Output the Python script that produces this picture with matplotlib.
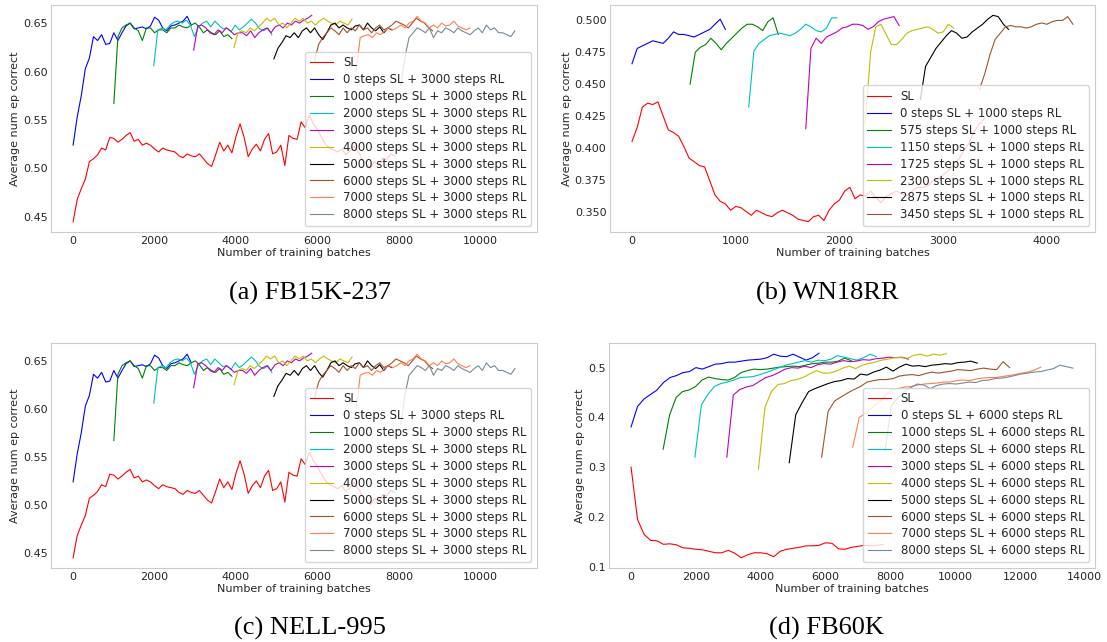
import matplotlib.pyplot as plt
import numpy as np
from matplotlib.ticker import MultipleLocator

plt.rcParams['font.family'] = 'DejaVu Sans'
plt.rcParams['font.size'] = 8
plt.rcParams['axes.edgecolor'] = '0.8'
plt.rcParams['text.color'] = '0.15'
plt.rcParams['axes.labelcolor'] = '0.15'
plt.rcParams['xtick.color'] = '0.15'
plt.rcParams['ytick.color'] = '0.15'
plt.rcParams['xtick.major.size'] = 0
plt.rcParams['ytick.major.size'] = 0
plt.rcParams['xtick.major.pad'] = 3
plt.rcParams['ytick.major.pad'] = 2.5

# ---- FB15K-237 (also shown as NELL-995), sampled every 100 batches ----
fb_step = 100
fb_sl = [0.445, 0.468, 0.479, 0.489, 0.507, 0.510, 0.514, 0.521, 0.519, 0.532,
         0.531, 0.527, 0.530, 0.534, 0.537, 0.528, 0.530, 0.524, 0.526, 0.524,
         0.520, 0.517, 0.521, 0.519, 0.518, 0.517, 0.513, 0.511, 0.515, 0.513,
         0.512, 0.515, 0.510, 0.505, 0.502, 0.514, 0.527, 0.518, 0.524, 0.516,
         0.533, 0.546, 0.532, 0.512, 0.520, 0.525, 0.518, 0.530, 0.536, 0.515,
         0.517, 0.524, 0.503, 0.534, 0.531, 0.530, 0.548, 0.542, 0.555, 0.546,
         0.540, 0.532, 0.525, 0.521, 0.519, 0.517, 0.520, 0.514, 0.518, 0.523,
         0.517, 0.510, 0.505, 0.500, 0.507, 0.503, 0.511, 0.509, 0.515, 0.513]
fb_starts = [0, 1000, 1980, 2960, 3950, 4930, 5930, 6950, 8050]
fb_rl = [
    [0.524, 0.553, 0.575, 0.603, 0.614, 0.636, 0.632, 0.638, 0.628, 0.629,
     0.640, 0.632, 0.640, 0.647, 0.650, 0.644, 0.645, 0.646, 0.644, 0.647,
     0.656, 0.653, 0.645, 0.642, 0.647, 0.648, 0.650, 0.652, 0.657, 0.648],
    [0.567, 0.636, 0.645, 0.648, 0.650, 0.645, 0.642, 0.632, 0.645, 0.645,
     0.640, 0.643, 0.643, 0.640, 0.645, 0.645, 0.648, 0.646, 0.645, 0.648,
     0.650, 0.646, 0.640, 0.643, 0.640, 0.638, 0.642, 0.636, 0.638, 0.634],
    [0.606, 0.643, 0.645, 0.643, 0.648, 0.651, 0.652, 0.650, 0.653, 0.648,
     0.636, 0.646, 0.650, 0.652, 0.646, 0.652, 0.648, 0.644, 0.645, 0.641,
     0.648, 0.643, 0.646, 0.650, 0.654, 0.650, 0.644, 0.642, 0.645, 0.638],
    [0.622, 0.647, 0.648, 0.645, 0.640, 0.638, 0.643, 0.640, 0.645, 0.642,
     0.638, 0.640, 0.640, 0.637, 0.642, 0.635, 0.640, 0.643, 0.645, 0.640,
     0.646, 0.648, 0.645, 0.650, 0.648, 0.652, 0.650, 0.653, 0.655, 0.658],
    [0.625, 0.640, 0.642, 0.640, 0.645, 0.642, 0.646, 0.650, 0.655, 0.652,
     0.655, 0.648, 0.650, 0.645, 0.650, 0.655, 0.652, 0.655, 0.650, 0.652,
     0.648, 0.652, 0.655, 0.652, 0.650, 0.648, 0.652, 0.650, 0.648, 0.654],
    [0.613, 0.624, 0.630, 0.637, 0.635, 0.640, 0.635, 0.642, 0.645, 0.640,
     0.645, 0.638, 0.633, 0.640, 0.648, 0.650, 0.645, 0.648, 0.645, 0.643,
     0.647, 0.648, 0.643, 0.650, 0.645, 0.642, 0.646, 0.640, 0.645, 0.643],
    [0.612, 0.628, 0.635, 0.640, 0.645, 0.642, 0.638, 0.645, 0.640, 0.645,
     0.642, 0.648, 0.643, 0.645, 0.640, 0.645, 0.648, 0.643, 0.645, 0.648,
     0.652, 0.650, 0.648, 0.645, 0.650, 0.655, 0.652, 0.650, 0.645, 0.642],
    [0.600, 0.635, 0.637, 0.638, 0.635, 0.640, 0.638, 0.642, 0.645, 0.643,
     0.645, 0.648, 0.645, 0.650, 0.652, 0.657, 0.652, 0.650, 0.645, 0.648,
     0.645, 0.650, 0.647, 0.648, 0.652, 0.647, 0.645, 0.643, 0.645],
    [0.585, 0.615, 0.635, 0.640, 0.645, 0.643, 0.640, 0.645, 0.635, 0.642,
     0.640, 0.645, 0.643, 0.640, 0.645, 0.642, 0.640, 0.638, 0.642, 0.645,
     0.640, 0.648, 0.643, 0.645, 0.640, 0.640, 0.638, 0.636, 0.642],
]
fb_labels = ['SL'] + ['%d steps SL + 3000 steps RL' % s
                      for s in [0, 1000, 2000, 3000, 4000, 5000, 6000, 7000, 8000]]

# ---- WN18RR, sampled every 50 batches ----
wn_step = 50
wn_sl = [0.405, 0.416, 0.432, 0.435, 0.434, 0.436, 0.425, 0.414, 0.412, 0.409,
         0.401, 0.392, 0.389, 0.386, 0.385, 0.374, 0.363, 0.358, 0.356, 0.351,
         0.354, 0.353, 0.350, 0.347, 0.351, 0.349, 0.347, 0.346, 0.349, 0.351,
         0.349, 0.347, 0.344, 0.343, 0.342, 0.346, 0.347, 0.343, 0.351, 0.356,
         0.359, 0.366, 0.369, 0.360, 0.363, 0.362, 0.366, 0.361, 0.357, 0.362,
         0.364, 0.366, 0.364, 0.362, 0.366, 0.369, 0.369, 0.370, 0.374, 0.376,
         0.379, 0.382, 0.387, 0.391, 0.398, 0.404, 0.413, 0.419, 0.423]
wn_starts = [0, 560, 1125, 1675, 2250, 2780, 3350]
wn_rl = [
    [0.466, 0.478, 0.480, 0.482, 0.484, 0.483, 0.482, 0.486, 0.491, 0.489,
     0.489, 0.488, 0.487, 0.489, 0.491, 0.493, 0.497, 0.501, 0.493],
    [0.450, 0.475, 0.479, 0.481, 0.486, 0.482, 0.477, 0.482, 0.486, 0.490,
     0.494, 0.497, 0.497, 0.495, 0.492, 0.499, 0.502, 0.489],
    [0.432, 0.476, 0.482, 0.485, 0.488, 0.489, 0.490, 0.489, 0.488, 0.490,
     0.493, 0.497, 0.495, 0.492, 0.491, 0.494, 0.502, 0.502],
    [0.415, 0.478, 0.486, 0.482, 0.487, 0.489, 0.491, 0.494, 0.495, 0.497,
     0.497, 0.496, 0.493, 0.495, 0.499, 0.501, 0.502, 0.503, 0.496],
    [0.420, 0.475, 0.495, 0.497, 0.489, 0.481, 0.481, 0.485, 0.490, 0.492,
     0.493, 0.494, 0.495, 0.493, 0.490, 0.491, 0.497, 0.494],
    [0.438, 0.464, 0.471, 0.478, 0.483, 0.488, 0.492, 0.490, 0.486, 0.487,
     0.491, 0.494, 0.497, 0.501, 0.504, 0.503, 0.497, 0.493],
    [0.446, 0.458, 0.473, 0.485, 0.490, 0.495, 0.496, 0.495, 0.495, 0.494,
     0.495, 0.497, 0.498, 0.497, 0.499, 0.500, 0.500, 0.503, 0.497],
]
wn_labels = ['SL'] + ['%d steps SL + 1000 steps RL' % s
                      for s in [0, 575, 1150, 1725, 2300, 2875, 3450]]

# ---- FB60K, sampled every 200 batches ----
f6_step = 200
f6_sl = [0.300, 0.195, 0.165, 0.153, 0.152, 0.145, 0.146, 0.144, 0.138, 0.137,
         0.135, 0.134, 0.131, 0.128, 0.128, 0.133, 0.127, 0.118, 0.124, 0.128,
         0.128, 0.126, 0.120, 0.131, 0.135, 0.137, 0.139, 0.142, 0.142, 0.143,
         0.148, 0.147, 0.136, 0.135, 0.139, 0.141, 0.143, 0.142, 0.143, 0.145]
f6_starts = [0, 990, 1970, 2955, 3930, 4880, 5880, 6840, 7830]
f6_rl = [
    [0.381, 0.422, 0.437, 0.446, 0.455, 0.470, 0.480, 0.484, 0.490, 0.492,
     0.500, 0.497, 0.502, 0.507, 0.508, 0.511, 0.511, 0.513, 0.515, 0.516,
     0.517, 0.520, 0.527, 0.523, 0.522, 0.527, 0.521, 0.515, 0.520, 0.529],
    [0.336, 0.405, 0.440, 0.452, 0.455, 0.462, 0.475, 0.481, 0.478, 0.476,
     0.475, 0.480, 0.490, 0.494, 0.497, 0.496, 0.497, 0.499, 0.501, 0.502,
     0.503, 0.502, 0.505, 0.508, 0.509, 0.511, 0.511, 0.513, 0.519, 0.514],
    [0.320, 0.425, 0.446, 0.462, 0.468, 0.471, 0.475, 0.480, 0.481, 0.482,
     0.486, 0.490, 0.495, 0.500, 0.505, 0.508, 0.511, 0.514, 0.511, 0.515,
     0.514, 0.517, 0.524, 0.521, 0.518, 0.515, 0.520, 0.527, 0.522],
    [0.320, 0.445, 0.456, 0.461, 0.464, 0.472, 0.480, 0.484, 0.490, 0.497,
     0.500, 0.499, 0.503, 0.500, 0.506, 0.508, 0.507, 0.511, 0.514, 0.512,
     0.513, 0.516, 0.515, 0.518, 0.519, 0.521, 0.520, 0.521, 0.517],
    [0.296, 0.420, 0.452, 0.466, 0.468, 0.474, 0.476, 0.481, 0.488, 0.494,
     0.489, 0.489, 0.493, 0.499, 0.503, 0.498, 0.505, 0.508, 0.511, 0.515,
     0.517, 0.520, 0.520, 0.519, 0.525, 0.527, 0.523, 0.527, 0.525, 0.528],
    [0.309, 0.405, 0.430, 0.452, 0.458, 0.463, 0.468, 0.472, 0.474, 0.478,
     0.477, 0.487, 0.485, 0.491, 0.495, 0.501, 0.493, 0.501, 0.507, 0.503,
     0.504, 0.502, 0.505, 0.506, 0.508, 0.507, 0.510, 0.511, 0.513, 0.509],
    [0.320, 0.412, 0.433, 0.441, 0.449, 0.456, 0.462, 0.471, 0.474, 0.476,
     0.476, 0.478, 0.483, 0.485, 0.486, 0.484, 0.488, 0.491, 0.489, 0.491,
     0.493, 0.496, 0.495, 0.494, 0.497, 0.499, 0.497, 0.496, 0.512, 0.500],
    [0.340, 0.400, 0.408, 0.420, 0.430, 0.444, 0.455, 0.458, 0.461, 0.462,
     0.465, 0.467, 0.468, 0.469, 0.471, 0.471, 0.474, 0.475, 0.474, 0.477,
     0.479, 0.480, 0.480, 0.482, 0.484, 0.486, 0.489, 0.491, 0.495, 0.501],
    [0.331, 0.423, 0.440, 0.452, 0.460, 0.467, 0.465, 0.458, 0.464, 0.467,
     0.468, 0.467, 0.469, 0.471, 0.470, 0.474, 0.475, 0.478, 0.479, 0.481,
     0.484, 0.487, 0.489, 0.491, 0.492, 0.495, 0.498, 0.505, 0.502, 0.499],
]
f6_labels = ['SL'] + ['%d steps SL + 6000 steps RL' % s
                      for s in [0, 1000, 2000, 3000, 4000, 5000, 6000, 7000, 8000]]

colors = ['b', 'g', 'c', 'm', 'y', 'k', 'sienna', 'coral', 'lightslategray']


def draw(ax, sl, starts, runs, step, labels):
    ax.plot(np.arange(len(sl)) * step, sl, color='r', lw=0.8, label=labels[0])
    for start, vals, col, lab in zip(starts, runs, colors, labels[1:]):
        xs = start + np.arange(len(vals)) * step
        ax.plot(xs, vals, color=col, lw=0.8, label=lab)
    ax.set_xlabel('Number of training batches', labelpad=1)
    ax.set_ylabel('Average num ep correct', labelpad=2)
    ax.legend(loc='lower right', fontsize=8.5, labelspacing=0.33)


fig = plt.figure(figsize=(11.07, 6.42), dpi=100)
ax_a = fig.add_axes([0.0461, 0.6386, 0.4390, 0.3536])
ax_b = fig.add_axes([0.5510, 0.6386, 0.4381, 0.3536])
ax_c = fig.add_axes([0.0461, 0.1153, 0.4390, 0.3505])
ax_d = fig.add_axes([0.5501, 0.1153, 0.4390, 0.3505])

draw(ax_a, fb_sl, fb_starts, fb_rl, fb_step, fb_labels)
draw(ax_b, wn_sl, wn_starts, wn_rl, wn_step, wn_labels)
draw(ax_c, fb_sl, fb_starts, fb_rl, fb_step, fb_labels)
draw(ax_d, f6_sl, f6_starts, f6_rl, f6_step, f6_labels)
ax_b.yaxis.set_major_locator(MultipleLocator(0.025))
ax_d.yaxis.set_major_locator(MultipleLocator(0.1))

cap = dict(ha='center', va='center', family='Liberation Serif', fontsize=19, color='black')
fig.text(0.280, 0.5436, '(a) FB15K-237', **cap)
fig.text(0.747, 0.5436, '(b) WN18RR', **cap)
fig.text(0.280, 0.0218, '(c) NELL-995', **cap)
fig.text(0.747, 0.0218, '(d) FB60K', **cap)

plt.savefig('out.png', dpi=100)
